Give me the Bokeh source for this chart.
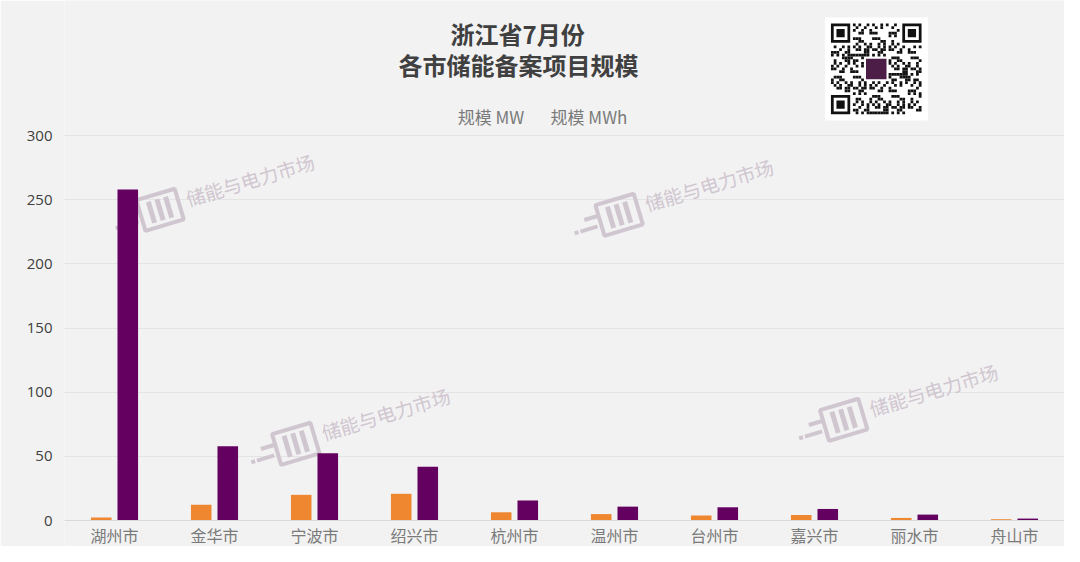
from bokeh.plotting import figure
from bokeh.models import Range1d, FactorRange, FixedTicker, ColumnDataSource
from bokeh.transform import dodge
from bokeh.core.properties import value
from bokeh.embed import file_html
from bokeh.resources import INLINE
import math

# ---- data ----
cities = ["湖州市", "金华市", "宁波市", "绍兴市", "杭州市", "温州市", "台州市", "嘉兴市", "丽水市", "舟山市"]
mw = [2.3, 12.2, 20.0, 20.8, 6.4, 5.0, 3.9, 4.3, 2.0, 1.0]
mwh = [258.0, 57.9, 52.5, 41.8, 15.6, 10.8, 10.3, 9.0, 4.6, 1.5]
y_ticks = [0, 50, 100, 150, 200, 250, 300]
title_lines = ["浙江省7月份", "各市储能备案项目规模"]
legend_labels = ["规模 MW", "规模 MWh"]
watermark_text = "储能与电力市场"

ORANGE = "#ef8630"
PURPLE = "#640060"
BG = "#f2f2f2"
CJK = "Noto Sans CJK SC"

W, H = 1064, 546
FL, FW = 64, 1002           # frame left / width (px)
ZERO_PY = 520               # pixel row of value 0
PX_PER_UNIT = 385 / 300     # y pixels per data unit
Y0 = -(H - ZERO_PY) / PX_PER_UNIT
Y1 = ZERO_PY / PX_PER_UNIT

def xs(px):
    return (px - FL) / (FW / len(cities))

def yd(py):
    return (ZERO_PY - py) / PX_PER_UNIT

p = figure(width=W, height=H, x_range=FactorRange(*cities, range_padding=0),
           y_range=Range1d(Y0, Y1), output_backend="svg", toolbar_location=None,
           min_border_left=FL, min_border_right=W - FL - FW, min_border_top=0,
           min_border_bottom=0)
p.background_fill_color = BG
p.border_fill_color = BG
p.outline_line_color = None

src = ColumnDataSource(dict(city=cities, mw=mw, mwh=mwh))

# ---- watermarks (behind bars) ----
WM_COLOR = "#d0c6d0"
ang = 0.29
wm_starts = [(186, 198), (646, 203), (322, 432), (871, 408)]
for (tx, ty) in wm_starts:
    p.text(x=[xs(tx)], y=[yd(ty)], text=[watermark_text], angle=ang,
           text_font=value(CJK), text_font_size="19px", text_color=WM_COLOR,
           text_align="left", text_baseline="middle")
    cx, cy = tx - 32, ty + 13
    c, s = math.cos(ang), math.sin(ang)
    def off(d, n=0.0):
        return xs(cx + d * c - n * s), yd(cy - d * s - n * c)
    bx, by = off(6)
    p.rect(x=[bx], y=[by], width=40, height=32, width_units="screen", height_units="screen",
           angle=ang, fill_color=None, line_color=WM_COLOR, line_width=4)
    for d in (-3, 6, 15):
        ix, iy = off(d)
        p.rect(x=[ix], y=[iy], width=5, height=22, width_units="screen", height_units="screen",
               angle=ang, fill_color=WM_COLOR, line_color=None)
    for (d, n, w) in ((-22, 5, 14), (-27, -5, 18), (-40, -5, 4)):
        ix, iy = off(d, n)
        p.rect(x=[ix], y=[iy], width=w, height=4, width_units="screen", height_units="screen",
               angle=ang, fill_color=WM_COLOR, line_color=None)

# ---- bars ----
step_px = FW / len(cities)
p.vbar(x=dodge("city", -13.3 / step_px, range=p.x_range), top="mw", width=20.6 / step_px,
       source=src, fill_color=ORANGE, line_color=None)
p.vbar(x=dodge("city", 13.3 / step_px, range=p.x_range), top="mwh", width=20.6 / step_px,
       source=src, fill_color=PURPLE, line_color=None)

# ---- titles ----
p.text(x=[xs(518)], y=[yd(33)], text=[title_lines[0]], text_font=value(CJK),
       text_font_size="24px", text_font_style="bold", text_color="#404040",
       text_align="center", text_baseline="middle")
p.text(x=[xs(519)], y=[yd(64)], text=[title_lines[1]], text_font=value(CJK),
       text_font_size="24px", text_font_style="bold", text_color="#404040",
       text_align="center", text_baseline="middle")

# ---- legend texts ----
p.text(x=[xs(458), xs(551)], y=[yd(116), yd(116)], text=legend_labels, text_font=value(CJK),
       text_font_size="17px", text_color="#7a7a7a", text_align="left", text_baseline="middle")

# ---- QR code placeholder ----
qx0, qy0, qs = 826, 17, 103
p.rect(x=[xs(qx0 + qs / 2)], y=[yd(qy0 + qs / 2)], width=qs, height=qs,
       width_units="screen", height_units="screen", fill_color="white", line_color=None)
mod = 2.75
n_mod = 33
gx0, gy0 = 832, 23
mx, my = [], []
for i in range(n_mod):
    for j in range(n_mod):
        in_finder = (i < 8 and j < 8) or (i < 8 and j >= n_mod - 8) or (i >= n_mod - 8 and j < 8)
        in_logo = 12 <= i <= 20 and 12 <= j <= 20
        if in_finder or in_logo:
            continue
        if ((i * 31 + j * 17 + (i * j) % 7) % 5) < 2:
            mx.append(xs(gx0 + (j + 0.5) * mod))
            my.append(yd(gy0 + (i + 0.5) * mod))
p.rect(x=mx, y=my, width=mod, height=mod, width_units="screen", height_units="screen",
       fill_color="#111111", line_color=None)
for (fi, fj) in ((0, 0), (0, n_mod - 7), (n_mod - 7, 0)):
    fcx = xs(gx0 + (fj + 3.5) * mod)
    fcy = yd(gy0 + (fi + 3.5) * mod)
    for sz, col in ((7, "#111111"), (5, "white"), (3, "#111111")):
        p.rect(x=[fcx], y=[fcy], width=sz * mod, height=sz * mod, width_units="screen",
               height_units="screen", fill_color=col, line_color=None)
lcx, lcy = xs(gx0 + 16.5 * mod), yd(gy0 + 16.5 * mod)
p.rect(x=[lcx], y=[lcy], width=22, height=22, width_units="screen", height_units="screen",
       fill_color="#4b1d47", line_color="white", line_width=1.5)

# ---- axes & grid ----
p.yaxis.ticker = FixedTicker(ticks=y_ticks)
p.yaxis.axis_line_color = None
p.yaxis.major_tick_line_color = None
p.yaxis.minor_tick_line_color = None
p.yaxis.major_tick_out = 0
p.yaxis.major_tick_in = 0
p.yaxis.major_label_standoff = 12
p.yaxis.major_label_text_font = "Open Sans"
p.yaxis.major_label_text_font_size = "15px"
p.yaxis.major_label_text_color = "#404040"

p.xaxis.fixed_location = 0
p.xaxis.axis_line_color = "#d9d9d9"
p.xaxis.major_tick_line_color = None
p.xaxis.minor_tick_line_color = None
p.xaxis.major_tick_out = 0
p.xaxis.major_tick_in = 0
p.xaxis.major_label_standoff = 2
p.xaxis.major_label_text_font = CJK
p.xaxis.major_label_text_font_size = "16px"
p.xaxis.major_label_text_color = "#7a7a7a"

p.xgrid.grid_line_color = None
p.ygrid.grid_line_color = "#e4e4e4"
p.ygrid.grid_line_width = 1

open("out.html", "w").write(file_html(p, INLINE))
